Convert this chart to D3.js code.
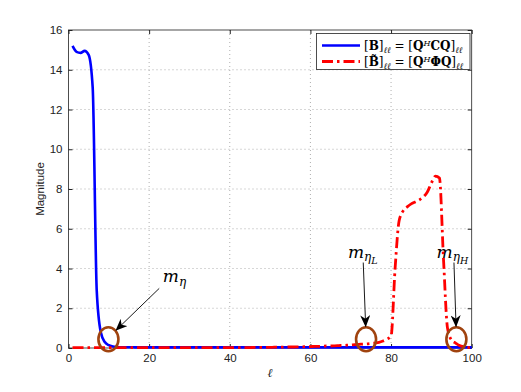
<!DOCTYPE html>
<html><head><meta charset="utf-8">
<script src="https://cdn.jsdelivr.net/npm/d3@7"></script>
<style>body{margin:0;background:#fff}svg{display:block}</style>
</head><body>
<svg id="c" width="521" height="392"></svg>
<script>
const xTicks = [0, 20, 40, 60, 80, 100];
const yTicks = [0, 2, 4, 6, 8, 10, 12, 14, 16];
const idx = d3.range(1, 101);
const blueVals = [15.2,14.9,14.85,14.95,14.75,13.1,2.9,0.8,0.3,0.14,0.08,0.05,0.04,0.04,0.035,0.035,0.03,0.03,0.03,0.03,
 0.03,0.03,0.03,0.03,0.03,0.03,0.03,0.03,0.03,0.03,0.03,0.03,0.03,0.03,0.03,0.03,0.03,0.03,0.03,0.03,
 0.03,0.03,0.03,0.03,0.03,0.03,0.03,0.03,0.03,0.03,0.03,0.03,0.03,0.03,0.03,0.03,0.03,0.03,0.03,0.03,
 0.03,0.03,0.03,0.03,0.03,0.03,0.03,0.03,0.03,0.03,0.03,0.03,0.03,0.03,0.03,0.03,0.03,0.03,0.03,0.03,
 0.03,0.03,0.03,0.03,0.03,0.03,0.03,0.03,0.03,0.03,0.03,0.03,0.03,0.03,0.03,0.03,0.03,0.03,0.03,0.03];
const redVals = [0.02,0.02,0.02,0.02,0.02,0.02,0.02,0.02,0.02,0.02,0.02,0.02,0.02,0.02,0.02,0.02,0.02,0.02,0.02,0.02,
 0.02,0.02,0.02,0.02,0.02,0.02,0.02,0.02,0.02,0.02,0.02,0.02,0.02,0.02,0.02,0.02,0.02,0.02,0.02,0.02,
 0.02,0.02,0.02,0.02,0.02,0.03,0.03,0.03,0.03,0.03,0.04,0.04,0.04,0.05,0.05,0.05,0.06,0.06,0.07,0.07,
 0.08,0.08,0.09,0.1,0.1,0.11,0.12,0.13,0.14,0.15,0.17,0.18,0.2,0.21,0.23,0.25,0.28,0.35,0.45,0.6,
 4.0,6.4,6.9,7.1,7.25,7.35,7.45,7.6,7.85,8.3,8.65,8.55,4.5,1.0,0.4,0.25,0.12,0.06,0.03,0.02];
const legendLabels = ["B", "B̃"];
const annotLabels = [
  {sub: "η", sub2: "", cx: 9.9, cy: 0.44, tx: 23.4, ty: 3.3, ax0: 22.5, ay0: 3.0},
  {sub: "η", sub2: "L", cx: 73.8, cy: 0.44, tx: 69.3, ty: 4.55, ax0: 73.1, ay0: 4.3},
  {sub: "η", sub2: "H", cx: 96.2, cy: 0.44, tx: 91.3, ty: 4.55, ax0: 95.6, ay0: 4.3}
];

const svg = d3.select("#c");
const L = 68.5, R = 471.7, T = 30, B = 348;
const x = d3.scaleLinear().domain([0, 100]).range([L, R]);
const y = d3.scaleLinear().domain([0, 16]).range([B, T]);
const sans = "'Liberation Sans', Arial, sans-serif";
const serif = "'DejaVu Serif', 'Liberation Serif', serif";

// grid
const g = svg.append("g");
g.selectAll(".gx").data(xTicks.filter(t => t > 0 && t < 100)).join("line")
  .attr("x1", d => x(d)).attr("x2", d => x(d)).attr("y1", T).attr("y2", B)
  .attr("stroke", "#9a9a9a").attr("stroke-width", 0.8).attr("stroke-dasharray", "1,3");
g.selectAll(".gy").data(yTicks.filter(t => t > 0 && t < 16)).join("line")
  .attr("y1", d => y(d)).attr("y2", d => y(d)).attr("x1", L).attr("x2", R)
  .attr("stroke", "#9a9a9a").attr("stroke-width", 0.8).attr("stroke-dasharray", "1,3");

// axes
const axB = d3.axisBottom(x).tickValues(xTicks).tickSize(-4).tickPadding(6);
const axL = d3.axisLeft(y).tickValues(yTicks).tickSize(-4).tickPadding(6);
const axT = d3.axisTop(x).tickValues(xTicks).tickSize(-4).tickFormat("");
const axR = d3.axisRight(y).tickValues(yTicks).tickSize(-4).tickFormat("");
function style(sel) {
  sel.select(".domain").remove();
  sel.selectAll("line").attr("stroke", "#222");
  sel.selectAll("text").attr("font-family", sans).attr("font-size", 11.5).attr("fill", "#222");
}
svg.append("g").attr("transform", `translate(0,${B})`).call(axB).call(style);
svg.append("g").attr("transform", `translate(${L},0)`).call(axL).call(style);
svg.append("g").attr("transform", `translate(0,${T})`).call(axT).call(style);
svg.append("g").attr("transform", `translate(${R},0)`).call(axR).call(style);
svg.append("rect").attr("x", L).attr("y", T).attr("width", R - L).attr("height", B - T)
  .attr("fill", "none").attr("stroke", "#222").attr("stroke-width", 0.8);

// axis labels
svg.append("text").attr("transform", `translate(44,${(T + B) / 2}) rotate(-90)`)
  .attr("text-anchor", "middle").attr("font-family", sans).attr("font-size", 11.5).attr("fill", "#222").text("Magnitude");
svg.append("text").attr("x", x(50)).attr("y", 377).attr("text-anchor", "middle")
  .attr("font-family", serif).attr("font-style", "italic").attr("font-size", 12).attr("fill", "#222").text("ℓ");

// lines
const line = d3.line().x(d => x(d[0])).y(d => y(d[1])).curve(d3.curveMonotoneX);
const blue = idx.map((v, i) => [v, blueVals[i]]);
const red = idx.map((v, i) => [v, redVals[i]]);
svg.append("path").attr("d", line(blue)).attr("fill", "none").attr("stroke", "#0000ff").attr("stroke-width", 2.6).attr("stroke-linejoin", "round");
svg.append("path").attr("d", line(red)).attr("fill", "none").attr("stroke", "#ff0000").attr("stroke-width", 2.8)
  .attr("stroke-dasharray", "11,4,2.5,4");

// annotations
const defs = svg.append("defs");
defs.append("marker").attr("id", "ah").attr("viewBox", "0 0 12 10").attr("refX", 11).attr("refY", 5)
  .attr("markerWidth", 12).attr("markerHeight", 10).attr("markerUnits", "userSpaceOnUse").attr("orient", "auto")
  .append("path").attr("d", "M0,0 L12,5 L0,10 L3.5,5 Z").attr("fill", "#000");

annotLabels.forEach(a => {
  svg.append("ellipse").attr("cx", x(a.cx)).attr("cy", y(a.cy)).attr("rx", 10).attr("ry", 12)
    .attr("fill", "none").attr("stroke", "#a0430f").attr("stroke-width", 2.6);
  const cx = x(a.cx), cy = y(a.cy);
  const sx = x(a.ax0), sy = y(a.ay0);
  const ang = Math.atan2(sy - cy, sx - cx);
  const ex = cx + 11 * Math.cos(ang), ey = cy + 13 * Math.sin(ang);
  svg.append("line").attr("x1", sx).attr("y1", sy).attr("x2", ex).attr("y2", ey)
    .attr("stroke", "#000").attr("stroke-width", 0.9).attr("marker-end", "url(#ah)");
  const t = svg.append("text").attr("x", x(a.tx)).attr("y", y(a.ty))
    .attr("font-family", serif).attr("font-style", "italic").attr("font-size", 17).attr("fill", "#000");
  t.append("tspan").text("m");
  t.append("tspan").attr("dy", 3.5).attr("font-size", 12).text(a.sub);
  if (a.sub2) t.append("tspan").attr("dy", 3).attr("font-size", 9.5).text(a.sub2);
});

// legend
const lg = svg.append("g");
lg.append("rect").attr("x", 316.5).attr("y", 33.5).attr("width", 153.5).attr("height", 36)
  .attr("fill", "#fff").attr("stroke", "#222").attr("stroke-width", 0.8);
const rowsY = [45.5, 61.5];
lg.append("line").attr("x1", 322).attr("x2", 360).attr("y1", rowsY[0]).attr("y2", rowsY[0])
  .attr("stroke", "#0000ff").attr("stroke-width", 2.6);
lg.append("line").attr("x1", 322).attr("x2", 360).attr("y1", rowsY[1]).attr("y2", rowsY[1])
  .attr("stroke", "#ff0000").attr("stroke-width", 2.8).attr("stroke-dasharray", "11,4,2.5,4");
legendLabels.forEach((lab, i) => {
  const t = lg.append("text").attr("x", 364).attr("y", rowsY[i] + 4.5)
    .attr("font-family", serif).attr("font-size", 12).attr("fill", "#000");
  t.append("tspan").text("[");
  t.append("tspan").attr("font-weight", "bold").text(lab);
  t.append("tspan").text("]");
  t.append("tspan").attr("font-style", "italic").attr("font-size", 8.5).attr("dy", 2.5).text("ℓℓ");
  t.append("tspan").attr("dy", -2.5).text(" = [");
  t.append("tspan").attr("font-weight", "bold").text("Q");
  t.append("tspan").attr("font-style", "italic").attr("font-size", 8).attr("dy", -4.5).text("H");
  t.append("tspan").attr("font-weight", "bold").attr("dy", 4.5).text(i === 0 ? "CQ" : "ΦQ");
  t.append("tspan").text("]");
  t.append("tspan").attr("font-style", "italic").attr("font-size", 8.5).attr("dy", 2.5).text("ℓℓ");
});
</script>
</body></html>
